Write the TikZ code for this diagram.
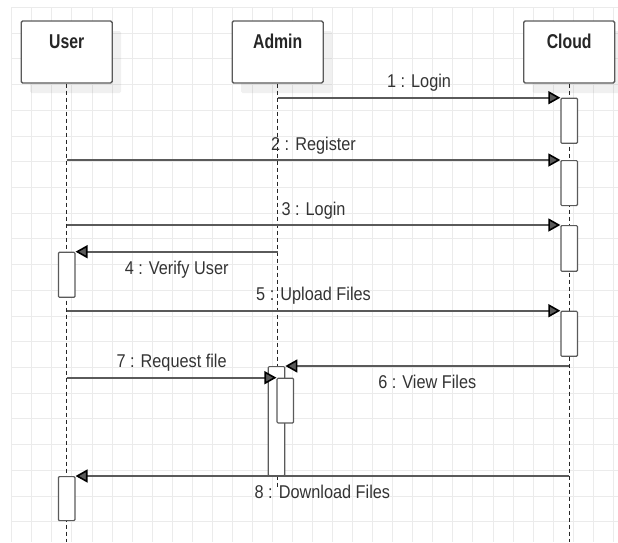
\documentclass[tikz,border=0pt]{standalone}
\usepackage{fontspec}
\usetikzlibrary{arrows.meta,shadows}
\newfontfamily\msgfont[FakeStretch=0.88]{Liberation Sans}
\newfontfamily\headfont[FakeStretch=0.79]{Liberation Sans}
\definecolor{gridgray}{HTML}{EBEBEB}
\definecolor{linegray}{HTML}{5A5A5A}
\definecolor{textgray}{HTML}{333333}

\tikzset{
  head/.style={draw=linegray, fill=white, line width=1.4pt, rounded corners=1.5pt,
    minimum width=91pt, minimum height=62pt, inner ysep=4pt, text height=23pt, text depth=31pt,
    font=\headfont\fontsize{20}{22}\selectfont\bfseries, text=black!85,
    drop shadow={shadow xshift=9pt, shadow yshift=-10pt, fill=black, opacity=0.06}},
  act/.style={draw=linegray, fill=white, line width=1.2pt, rounded corners=1pt,
    minimum width=16.5pt, inner sep=0pt, anchor=north},
  lifeline/.style={draw=black!85, line width=0.9pt, dash pattern=on 4pt off 3pt},
  msg/.style={linegray, line width=1.6pt},
  lbl/.style={font=\msgfont\fontsize{18.5}{20}\selectfont, text=textgray,
    text height=13pt, text depth=0pt, inner ysep=9pt, inner xsep=0pt},
  gridline/.style={draw=gridgray, line width=0.8pt}
}

\begin{document}
\begin{tikzpicture}[x=1pt,y=-1pt,>={Triangle[length=12pt,width=13pt,color=black]},node distance=211pt]

\useasboundingbox (0,0) rectangle (618,542);
\foreach \gx in {0,...,30}
	\draw[gridline] ({11.7+20.05*\gx},7.3) -- ({11.7+20.05*\gx},542);
\foreach \gy in {0,...,20}
	\draw[gridline] (11.7,{7.3+25.72*\gy}) -- (618,{7.3+25.72*\gy});

\node[head]   (user)    at (66.7,52)    				{User};
\node[head]   (admin)[right of=user]      				{Admin};
\node[head]   (cloud)[right of=admin, node distance=291.5pt]  	{Cloud};

\coordinate (userend)  at (user |- 0,542);
\coordinate (adminend) at (admin |- 0,487);
\coordinate (cloudend) at (cloud |- 0,542);
\draw[lifeline] (user) -- (userend);
\draw[lifeline] (admin) -- (adminend);
\draw[lifeline] (cloud) -- (cloudend);

\node[act, minimum height=45pt]   (cact1) at (cloud |- 0,97.7)  {};
\node[act, minimum height=45pt]   (cact2) at (cloud |- 0,160)   {};
\node[act, minimum height=45.7pt] (cact3) at (cloud |- 0,225)   {};
\node[act, minimum height=45pt]   (cact4) at (cloud |- 0,310.7) {};
\node[act, minimum height=45pt]   (uact1) at (user |- 0,251.7)  {};
\node[act, minimum height=44pt]   (uact2) at (user |- 0,476)    {};
\node[act, minimum height=109pt, xshift=-1.2pt] (aact1) at (admin |- 0,366)   {};
\node[act, minimum height=44.6pt, xshift=7.6pt] (aact2) at (admin |- 0,377.7) {};

	\path[->,msg] (admin |- cact1.north west)  edge	node[lbl,above]{1 : Login} 	(cact1.north west)
							(user |- cact2.north west)  edge	node[lbl,above]{2 : Register} 	(cact2.north west)
							(user |- cact3.north west)  edge	node[lbl,above]{3 : Login} 	(cact3.north west)
							(admin |- uact1.north east)  edge	node[lbl,below]{4 : Verify User} 	(uact1.north east)
							(user |- cact4.north west)  edge	node[lbl,above]{5 : Upload Files} 	(cact4.north west)
							(cloud |- aact1.north east)  edge	node[lbl,below]{6 : View Files} 	(aact1.north east)
							(user |- aact2.north west)  edge	node[lbl,above]{7 : Request file} 	(aact2.north west)
							(cloud |- uact2.north east)  edge	node[lbl,below]{8 : Download Files} 	(uact2.north east);

\end{tikzpicture}
\end{document}
